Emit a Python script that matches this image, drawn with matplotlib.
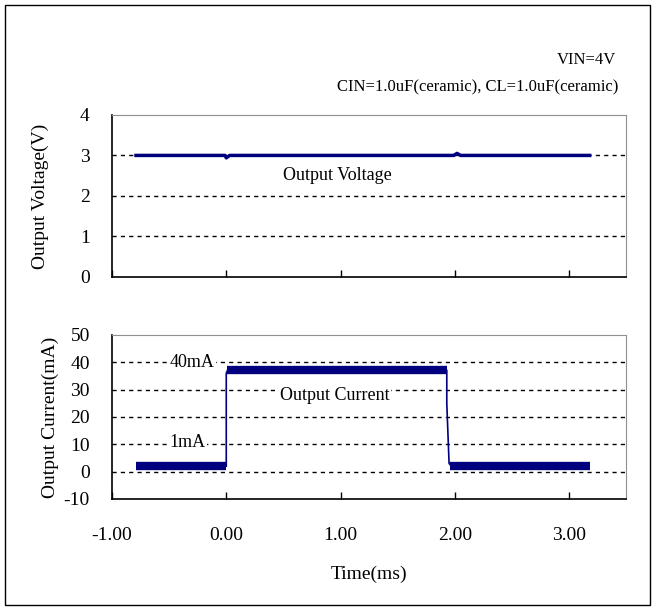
import matplotlib
matplotlib.use("Agg")
import matplotlib.pyplot as plt
from matplotlib.patches import Rectangle

plt.rcParams['font.family'] = ['Liberation Serif', 'DejaVu Serif']
plt.rcParams['axes.unicode_minus'] = False

# Output voltage trace (ms, V)
volt_t = [-0.79, -0.01, 0.0, 0.03, 1.99, 2.02, 2.05, 3.18]
volt_v = [3.0, 3.0, 2.94, 3.0, 3.0, 3.05, 3.0, 3.0]

# Output current trace: plateaus (start ms, end ms, level mA)
cur_plateaus = [(-0.79, 0.0, 2.0), (0.01, 1.93, 37.0), (1.96, 3.18, 2.2)]
# switching edges (ms, mA)
edge_t = [0.0, 0.0, 0.01]
edge_i = [2.0, 36.0, 37.0]
edge2_t = [1.93, 1.93, 1.95, 1.96]
edge2_i = [37.0, 25.0, 3.0, 2.5]

x_ticks = [-1, 0, 1, 2, 3]
v_ticks = [0, 1, 2, 3, 4]
i_ticks = [-10, 0, 10, 20, 30, 40, 50]

navy = '#00007f'

fig = plt.figure(figsize=(6.55, 6.10), dpi=100)
fig.patches.append(Rectangle((5 / 655, 5 / 610), 645 / 655, 600 / 610,
                             transform=fig.transFigure, fill=False,
                             edgecolor='black', linewidth=1.0))

ax1 = fig.add_axes([0.171, 0.546, 0.785, 0.2656])
ax2 = fig.add_axes([0.171, 0.182, 0.785, 0.2689])


def style(ax, yticks, ylim, grid_vals):
    ax.set_xlim(-1, 3.5)
    ax.set_ylim(*ylim)
    ax.set_xticks(x_ticks)
    ax.set_yticks(yticks)
    for g in grid_vals:
        ax.axhline(g, color='black', linestyle=(0, (3, 3)), linewidth=1.0, zorder=1)
    ax.spines['top'].set_color('#909090')
    ax.spines['right'].set_color('#909090')
    ax.spines['left'].set_linewidth(1.2)
    ax.spines['bottom'].set_linewidth(1.2)
    ax.tick_params(axis='x', direction='in', length=5, width=1.0, pad=20, labelsize=14)
    ax.tick_params(axis='y', length=0, pad=16, labelsize=14)


style(ax1, v_ticks, (0, 4), [1, 2, 3])
ax1.tick_params(axis='x', labelbottom=False)
ax1.plot(volt_t, volt_v, color=navy, linewidth=2.5, zorder=3)
ax1.text(0.97, 2.5, 'Output Voltage', fontsize=13, ha='center', va='center')
ax1.set_ylabel('Output Voltage(V)', fontsize=14, labelpad=22)

style(ax2, i_ticks, (-10, 50), [0, 10, 20, 30, 40])
for t0, t1, lvl in cur_plateaus:
    ax2.plot([t0, t1], [lvl, lvl], color=navy, linewidth=6, solid_capstyle='butt', zorder=3)
ax2.plot(edge_t, edge_i, color=navy, linewidth=1.2, zorder=3)
ax2.plot(edge2_t, edge2_i, color=navy, linewidth=1.2, zorder=3)
ax2.xaxis.set_major_formatter(plt.FuncFormatter(lambda x, p: f'{x:.2f}'))
ax2.text(0.95, 27.8, 'Output Current', fontsize=13, ha='center', va='center',
         bbox=dict(facecolor='white', edgecolor='none', pad=1))
ax2.text(-0.1, 40, '40mA', fontsize=13, ha='right', va='center',
         bbox=dict(facecolor='white', edgecolor='none', pad=1))
ax2.text(-0.34, 10.5, '1mA', fontsize=13, ha='center', va='center',
         bbox=dict(facecolor='white', edgecolor='none', pad=1))
ax2.set_ylabel('Output Current(mA)', fontsize=14, labelpad=3)
ax2.set_xlabel('Time(ms)', fontsize=14, labelpad=16)

fig.text(616 / 655, 1 - 60 / 610, 'VIN=4V', fontsize=12, ha='right', va='center')
fig.text(618 / 655, 1 - 87 / 610, 'CIN=1.0uF(ceramic), CL=1.0uF(ceramic)',
         fontsize=12, ha='right', va='center')

fig.savefig('out.png', dpi=100, facecolor='white')
